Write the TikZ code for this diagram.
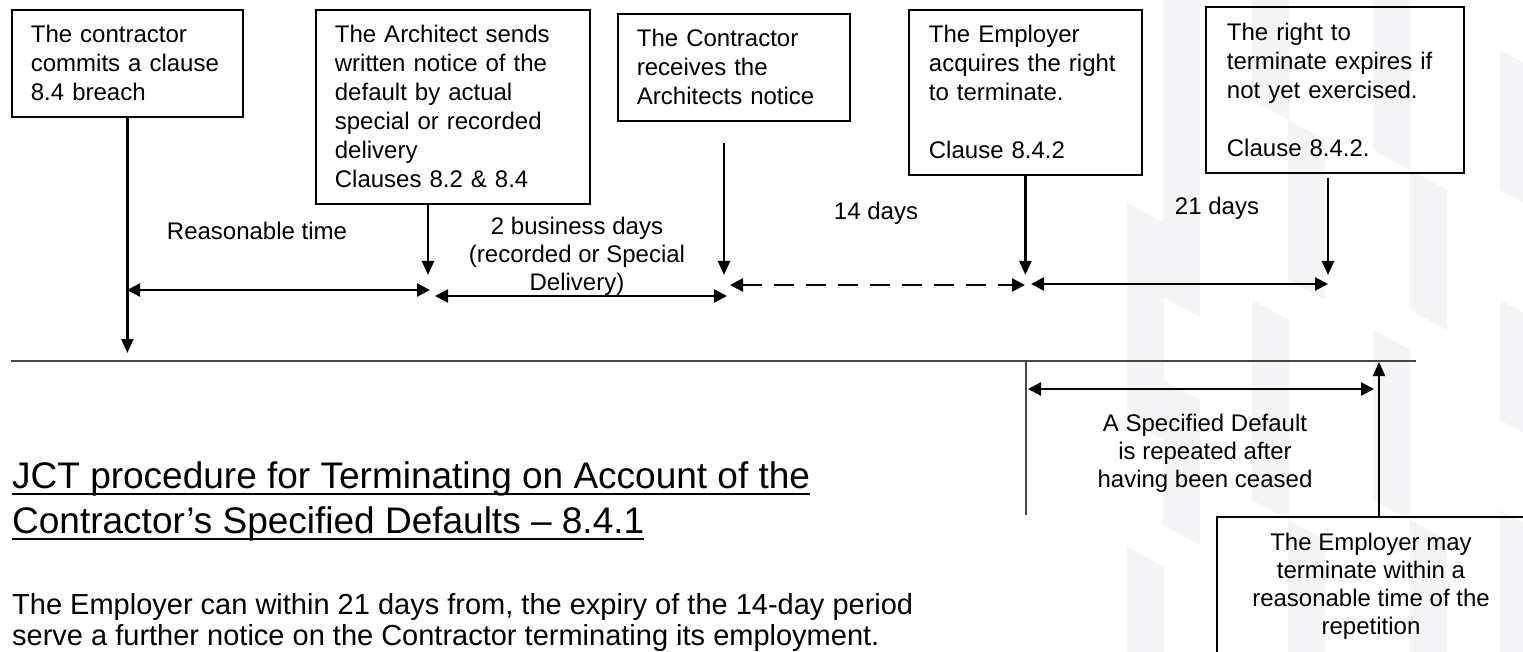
\documentclass[tikz,border=0pt]{standalone}
\usepackage{fontspec}
\setmainfont{Liberation Sans}
\usepackage{tikz}
\usetikzlibrary{arrows.meta,positioning}
\usepackage{xcolor}
\definecolor{InkK}   {RGB}{0,   0,   0}
\definecolor{RuleG}  {RGB}{70,  70,  70}
\definecolor{WmGrey} {RGB}{244, 243, 246}
\newcommand{\boxfont}{\fontsize{24}{29}\selectfont}
\newcommand{\lblfont}{\fontsize{24}{28}\selectfont}
\newcommand{\headfont}{\fontsize{37}{45}\selectfont}
\newcommand{\bodyfont}{\fontsize{29}{31}\selectfont}

\begin{document}
\begin{tikzpicture}[x=1pt,y=-1pt,
    stage/.style={draw=InkK,line width=1.8pt,inner xsep=19pt,inner ysep=0pt,
      align=left,anchor=north west,font=\boxfont},
    lbl/.style={align=center,inner sep=0pt,font=\lblfont},
    tick/.style={-{Triangle[length=14pt,width=12pt]},line width=2.3pt,InkK},
    span/.style={{Triangle[length=13pt,width=13pt]}-{Triangle[length=13pt,width=13pt]},
      line width=2.4pt,InkK},
    rule/.style={RuleG,line width=1.3pt}]
  \useasboundingbox (0,0) rectangle (1523,652);
  % faint logo stripes behind the right half
  \foreach \wx/\wa/\wb in {1163/-30/297,1163/380/525,1127/203/420,1127/547/680,
      1252/-30/100,1252/300/500,1288/120/280,1288/520/680,
      1373/-30/150,1373/330/500,1410/170/310,1410/520/680,
      1500/50/190,1500/300/420,1500/510/680}
    \fill[WmGrey] (\wx,\wa) -- ++(37,20) -- (\wx+37,\wb+20) -- (\wx,\wb) -- cycle;

  % event boxes along the top
  \node[stage,text width=193pt,minimum height=107pt] (breach) at (11,9)
    {The contractor\\commits a clause\\8.4 breach};
  \node[stage,text width=236pt,minimum height=194pt] (notice) at (315,9)
    {The Architect sends\\written notice of the\\default by actual\\special or recorded\\delivery\\Clauses 8.2 \& 8.4};
  \node[stage,text width=194pt,minimum height=107pt] (received) at (617,13)
    {The Contractor\\receives the\\Architects notice};
  \node[stage,text width=193pt,minimum height=165pt,inner xsep=20pt] (acquire) at (908,9)
    {The Employer\\acquires the right\\to terminate.\\[29pt]Clause 8.4.2};
  \node[stage,text width=216pt,minimum height=166pt,inner xsep=21pt] (expiry) at (1205,6)
    {The right to\\terminate expires if\\not yet exercised.\\[29pt]Clause 8.4.2.};

  % timeline
  \coordinate (axisL) at (11,361);
  \coordinate (axisR) at (1416,361);
  \draw[rule] (axisL) -- (axisR);

  % points where each event lands
  \coordinate (start)  at (127,353);
  \coordinate (sent)   at (428,275);
  \coordinate (recv)   at (724,275);
  \coordinate (right)  at (1025,275);
  \coordinate (expire) at (1328,275);
  \draw[tick] (breach.south) -- (breach.south |- start);
  \draw[tick] (notice.south -| sent) -- (sent);
  \draw[tick,shorten <=21pt] (received.south -| recv) -- (recv);
  \draw[tick] (acquire.south) -- (acquire.south |- right);
  \draw[tick,shorten <=4pt] (expiry.south -| expire) -- (expire);

  % periods between events
  \coordinate (r0) at (127,290);  \coordinate (r1) at (430,290);
  \coordinate (b0) at (435,296);  \coordinate (b1) at (727,296);
  \coordinate (c0) at (730,285);  \coordinate (c1) at (1025,285);
  \coordinate (d0) at (1031,284); \coordinate (d1) at (1328,284);
  \draw[span] (r0) -- (r1);
  \draw[span] (b0) -- (b1);
  \draw[span,dash pattern=on 20pt off 12pt] (c0) -- (c1);
  \draw[span] (d0) -- (d1);
  \node[lbl] (reason)    at (257,231) {Reasonable time};
  \node[lbl] (twodays)   at (577,256) {2 business days\\(recorded or Special\\Delivery)};
  \node[lbl] (fourteen)  at (876,213) {14 days};
  \node[lbl] (twentyone) at (1217,208) {21 days};

  % repeated default below the timeline
  \coordinate (repTop) at (1026,361);
  \coordinate (repLow) at (1026,515);
  \draw[rule] (repTop) -- (repLow);
  \coordinate (f0) at (1028,389); \coordinate (f1) at (1374,389);
  \draw[span] (f0) -- (f1);
  \node[lbl] (repeat) at (1205,453)
    {A Specified Default\\is repeated after\\having been ceased};
  \node[draw=InkK,line width=1.8pt,minimum width=308pt,minimum height=139pt,
    lbl] (mayterm) at (1371,586.5)
    {The Employer may\\terminate within a\\reasonable time of the\\repetition};
  \coordinate (again) at (1379,362);
  \draw[tick] (mayterm.north -| again) -- (again);

  % heading and note
  \node[anchor=base west,inner sep=0pt,font=\headfont] (head1) at (12,488)
    {JCT procedure for Terminating on Account of the};
  \node[anchor=base west,inner sep=0pt,font=\headfont] (head2) at (12,533)
    {Contractor’s Specified Defaults – 8.4.1};
  \draw[InkK,line width=2.6pt] ([yshift=-6pt]head1.base west) -- ([yshift=-6pt]head1.base east);
  \draw[InkK,line width=2.6pt] ([yshift=-6pt]head2.base west) -- ([yshift=-6pt]head2.base east);
  \node[anchor=north west,inner sep=0pt,align=left,font=\bodyfont] (note) at (12,593)
    {The Employer can within 21 days from, the expiry of the 14-day period\\serve a further notice on the Contractor terminating its employment.};
\end{tikzpicture}
\end{document}
